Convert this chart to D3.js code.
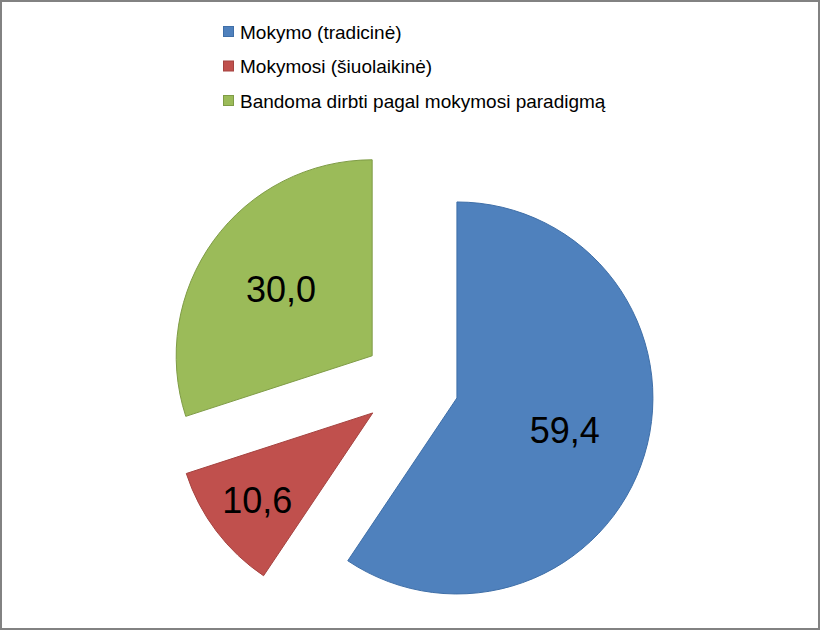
<!DOCTYPE html>
<html><head><meta charset="utf-8">
<script src="https://cdn.jsdelivr.net/npm/d3@7"></script>
<style>body{margin:0;background:#fff}svg{display:block}</style>
</head><body>
<svg id="chart" width="820" height="631"></svg>
<script>
const categories = ["Mokymo (tradicinė)", "Mokymosi (šiuolaikinė)", "Bandoma dirbti pagal mokymosi paradigmą"];
const values = [59.4, 10.6, 30.0];
const labels = ["59,4", "10,6", "30,0"];
const colors = ["#4F81BD", "#C0504D", "#9BBB59"];
const strokes = ["#3F6FA8", "#A54340", "#7F9C46"];

const W = 820, H = 631;
const svg = d3.select("#chart");
svg.append("rect").attr("x",1).attr("y",1).attr("width",W-2).attr("height",H-3)
  .attr("fill","#fff").attr("stroke","#828282").attr("stroke-width",2);

const cx = 411, cy = 384, R = 196, explode = 48;
const pie = d3.pie().sort(null).value(d => d)(values);
const arc = d3.arc().innerRadius(0).outerRadius(R);
const g = svg.append("g").attr("transform", `translate(${cx},${cy})`);

const slices = g.selectAll("g.slice").data(pie).join("g").attr("class","slice")
  .attr("transform", d => {
    const a = (d.startAngle + d.endAngle)/2;
    return `translate(${explode*Math.sin(a)},${-explode*Math.cos(a)})`;
  });
slices.append("path").attr("d", arc)
  .attr("fill", (d,i) => colors[i]).attr("stroke", (d,i) => strokes[i]).attr("stroke-width", 1);

slices.append("text")
  .text((d,i) => labels[i])
  .attr("font-family","Liberation Sans, Arial, sans-serif").attr("font-size",36)
  .attr("text-anchor","middle").attr("dominant-baseline","central")
  .attr("fill","#000")
  .each(function(d){
    const a = (d.startAngle + d.endAngle)/2;
    const half = (d.endAngle - d.startAngle)/2;
    const w = this.getComputedTextLength();
    const rho = Math.max(0.575*R, (w/2 + 15)/Math.tan(Math.min(half, 1.4)));
    d3.select(this).attr("x", rho*Math.sin(a)).attr("y", -rho*Math.cos(a));
  });

const leg = svg.append("g").attr("transform","translate(223,32)");
const rows = leg.selectAll("g").data(categories).join("g")
  .attr("transform", (d,i) => `translate(0,${i*34.5})`);
rows.append("rect").attr("x",0.5).attr("y",-5.5).attr("width",10).attr("height",10)
  .attr("fill",(d,i)=>colors[i]).attr("stroke",(d,i)=>strokes[i]).attr("stroke-width",1);
rows.append("text").attr("x",17).attr("y",0).attr("dominant-baseline","central")
  .attr("font-family","Liberation Sans, Arial, sans-serif").attr("font-size",19)
  .attr("fill","#000").text(d=>d);
</script>
</body></html>
